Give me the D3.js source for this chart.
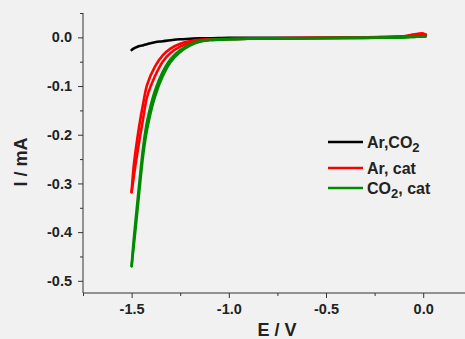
<!DOCTYPE html>
<html>
<head>
<meta charset="utf-8">
<script src="https://cdn.jsdelivr.net/npm/d3@7"></script>
<style>
  body { margin: 0; background: #f1f1f1; }
  svg { display: block; font-family: "Liberation Sans", Arial, sans-serif; font-weight: bold; }
</style>
</head>
<body>
<div id="chart"></div>
<script>
// potential grid (V), shared by all scans
const potential = [0.012, 0, -0.05, -0.1, -0.3, -0.6, -0.9, -1.0, -1.1, -1.15, -1.2, -1.25, -1.3, -1.34, -1.38, -1.42, -1.44, -1.46, -1.48, -1.49, -1.5];

// currents (mA)
const arCo2 = [0.003, 0.003, 0.002, 0.001, 0.000, -0.001, -0.001, -0.001, -0.002, -0.002, -0.003, -0.004, -0.006, -0.008, -0.010, -0.014, -0.016, -0.018, -0.021, -0.023, -0.026];
const arCatFwd = [0.006, 0.007, 0.005, 0.002, 0.000, -0.002, -0.003, -0.004, -0.005, -0.007, -0.011, -0.019, -0.032, -0.050, -0.080, -0.122, -0.165, -0.212, -0.262, -0.290, -0.318];
const arCatRev = [0.006, 0.008, 0.006, 0.002, 0.000, -0.001, -0.003, -0.003, -0.004, -0.005, -0.008, -0.013, -0.023, -0.037, -0.060, -0.097, -0.135, -0.180, -0.235, -0.268, -0.318];
const co2CatFwd = [0.002, 0.002, 0.001, 0.000, -0.001, -0.002, -0.003, -0.004, -0.006, -0.009, -0.017, -0.030, -0.051, -0.080, -0.122, -0.188, -0.240, -0.315, -0.395, -0.432, -0.470];
const co2CatRev = [0.002, 0.002, 0.001, 0.000, -0.001, -0.002, -0.003, -0.004, -0.005, -0.008, -0.015, -0.026, -0.045, -0.071, -0.110, -0.172, -0.224, -0.298, -0.378, -0.420, -0.470];

const legendLabels = ["Ar,CO", "Ar, cat", "CO"];
const xTicks = [-1.5, -1.0, -0.5, 0.0];
const xMinor = [-1.75, -1.25, -0.75, -0.25, 0.25];
const yTicks = [0.0, -0.1, -0.2, -0.3, -0.4, -0.5];
const yMinor = [0.05, -0.05, -0.15, -0.25, -0.35, -0.45];

const width = 465, height = 339;
const plotLeft = 83, plotTop = 13, plotBottom = 293;

const svg = d3.select('#chart').append('svg')
    .attr('width', width)
    .attr('height', height);

svg.append('rect').attr('width', width).attr('height', height).attr('fill', '#f1f1f1');

const x = d3.scaleLinear().domain([-1.75, 0.25]).range([plotLeft, plotLeft + 2 * 194.4]);
const y = d3.scaleLinear().domain([0.05, -0.525]).range([plotTop, plotBottom]);

// plain hyphen minus like the original
const fmt = d => d.toFixed(1);

// axes
const xAxis = svg.append('g').attr('transform', 'translate(0,' + plotBottom + ')')
    .call(d3.axisBottom(x).tickValues(xTicks).tickFormat(fmt).tickSize(5).tickPadding(6));
svg.append('g').attr('transform', 'translate(0,' + plotBottom + ')')
    .call(d3.axisBottom(x).tickValues(xMinor).tickFormat('').tickSize(3))
    .select('.domain').remove();
const yAxis = svg.append('g').attr('transform', 'translate(' + plotLeft + ',0)')
    .call(d3.axisLeft(y).tickValues(yTicks).tickFormat(fmt).tickSize(5).tickPadding(6));
svg.append('g').attr('transform', 'translate(' + plotLeft + ',0)')
    .call(d3.axisLeft(y).tickValues(yMinor).tickFormat('').tickSize(3))
    .select('.domain').remove();

xAxis.select('.domain').attr('d', 'M' + plotLeft + ',0H' + width);
yAxis.select('.domain').attr('d', 'M0,' + plotTop + 'V' + plotBottom);

svg.selectAll('.tick line, .domain').attr('stroke', '#333').attr('stroke-width', 1);
svg.selectAll('.tick text').attr('fill', '#222').style('font-size', '14.5px').style('font-weight', 'bold')
    .style('font-family', '"Liberation Sans", Arial, sans-serif');

// axis titles
svg.append('text')
    .attr('x', 277).attr('y', 336)
    .attr('text-anchor', 'middle')
    .style('font-size', '18px').attr('fill', '#222')
    .text('E / V');
svg.append('text')
    .attr('transform', 'translate(27,162) rotate(-90)')
    .attr('text-anchor', 'middle')
    .style('font-size', '18px').attr('fill', '#222')
    .text('I / mA');

// curves
const line = d3.line()
    .x(d => x(d[0]))
    .y(d => y(d[1]))
    .curve(d3.curveCatmullRom.alpha(0.5));

const scans = [
  {vals: arCo2, color: '#000000'},
  {vals: arCatFwd, color: '#ff0000'},
  {vals: arCatRev, color: '#ff0000'},
  {vals: co2CatFwd, color: '#008a00'},
  {vals: co2CatRev, color: '#008a00'}
];

svg.append('g').selectAll('path')
    .data(scans)
    .enter().append('path')
    .attr('d', s => line(potential.map((e, i) => [e, s.vals[i]])))
    .attr('fill', 'none')
    .attr('stroke', s => s.color)
    .attr('stroke-width', 2.6)
    .attr('stroke-linecap', 'round');

// legend
const legendRows = [
  {label: legendLabels[0], sub: '2', after: '', color: '#000000', y: 142},
  {label: legendLabels[1], sub: '', after: '', color: '#ff0000', y: 168},
  {label: legendLabels[2], sub: '2', after: ', cat', color: '#008a00', y: 188}
];

const legend = svg.append('g');
legendRows.forEach(r => {
  legend.append('line')
      .attr('x1', 328).attr('x2', 363)
      .attr('y1', r.y).attr('y2', r.y)
      .attr('stroke', r.color).attr('stroke-width', 2.5);
  const t = legend.append('text')
      .attr('x', 367).attr('y', r.y + 5.5)
      .style('font-size', '16px').attr('fill', '#222');
  t.append('tspan').text(r.label);
  if (r.sub) {
    t.append('tspan').attr('dy', 4).style('font-size', '13px').text(r.sub);
    if (r.after) t.append('tspan').attr('dy', -4).text(r.after);
  }
});
</script>
</body>
</html>
